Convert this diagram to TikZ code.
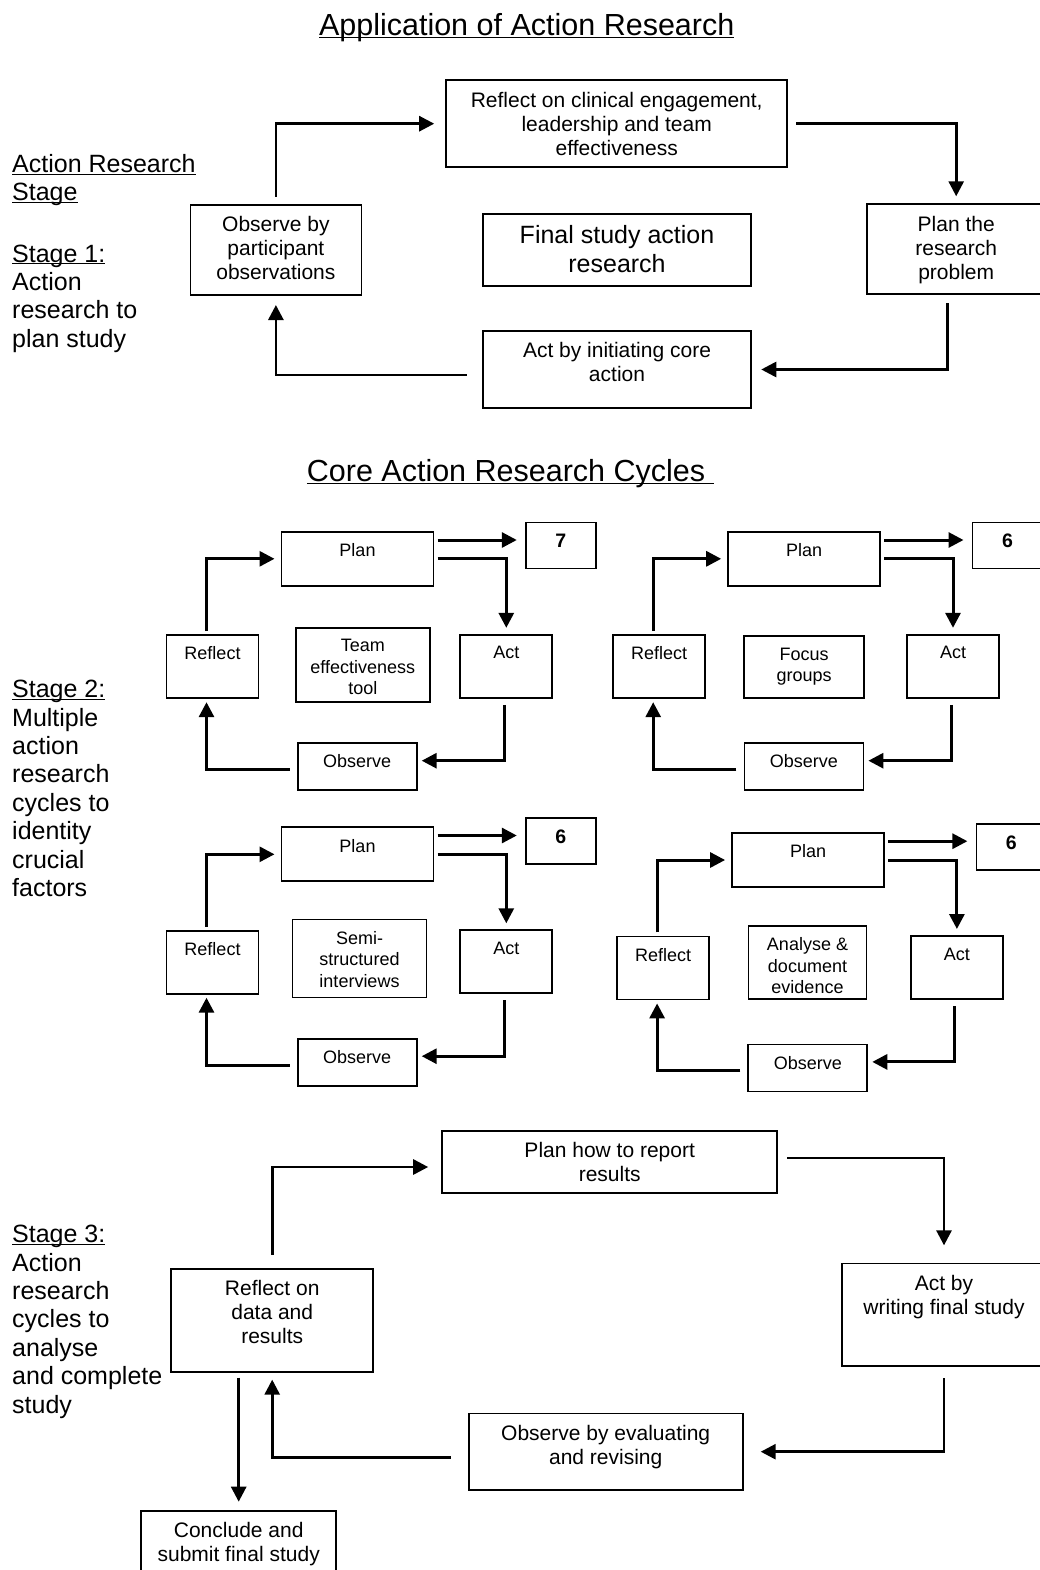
\documentclass[tikz,border=0pt]{standalone}
\usepackage{fontspec}
\setmainfont{Liberation Sans}
\usetikzlibrary{arrows.meta}

\begin{document}
\begin{tikzpicture}[x=1pt,y=-1pt,
    box/.style={draw, line width=1.7pt, inner sep=0pt, outer sep=0pt},
    sz/.style 2 args={minimum width=#1pt, minimum height=#2pt},
    lab/.style 2 args={label={[#1,anchor=north]north:{#2}}},
    txt/.style={align=center, inner xsep=0pt, inner ysep=11.5pt, font=\fontsize{21}{24}\selectfont},
    big/.style={txt, font=\fontsize{25}{29}\selectfont},
    ctxt/.style={txt, font=\fontsize{18}{21.5}\selectfont},
    num/.style={txt, font=\fontsize{19.5}{22}\selectfont\bfseries},
    side/.style={align=left, anchor=north west, inner sep=0pt, font=\fontsize{25}{28.4}\selectfont},
    head/.style={inner sep=0pt, font=\fontsize{30.5}{36}\selectfont},
    arr/.style={line width=2.7pt, -{Triangle[length=15pt,width=15pt]}},
    carr/.style={arr, line width=3pt}]
  \useasboundingbox (0,0) rectangle (1040,1570);

  \node[head, anchor=base] (tit1) at (526.7,36) {\underbar{Application of Action Research}};
  \node[head, anchor=base west] (tit2) at (306.7,481.7) {\underbar{Core Action Research Cycles\ }};

  \node[side] (hd) at (12,154) {\underbar{Action Research}\\\underbar{Stage}};
  \node[side] (st1) at (12,244.5) {\underbar{Stage 1:}\\Action\\research to\\plan study};
  \node[side] (st2) at (12,680.1) {\underbar{Stage 2:}\\Multiple\\action\\research\\cycles to\\identity\\crucial\\factors};
  \node[side] (st3) at (12,1225.1) {\underbar{Stage 3:}\\Action\\research\\cycles to\\analyse\\and complete\\study};

  % stage 1
  \node[box, sz={341}{87}, lab={txt}{Reflect on clinical engagement,\\leadership and team\\effectiveness}] (refl0) at (616.7,123.7) {};
  \node[box, sz={171}{90}, lab={txt}{Observe by\\participant\\observations}] (obs0) at (275.9,250) {};
  \node[box, sz={268.5}{72}, lab={big}{Final study action\\research}] (fin0) at (617,250) {};
  \node[box, sz={178}{90}, lab={txt}{Plan the\\research\\problem}] (plan0) at (956.2,249.3) {};
  \node[box, sz={268.5}{77.6}, lab={txt}{Act by initiating core\\action}] (act0) at (617,369.5) {};
  \draw[arr, shorten <=8pt, shorten >=12pt] (obs0.north) |- (refl0.west);
  \draw[arr, shorten <=9pt, shorten >=8pt] (refl0.east) -| (plan0.north);
  \draw[arr, shorten <=9pt, shorten >=10pt] ([xshift=-9pt]plan0.south) |- (act0.east);
  \draw[arr, shorten <=16pt, shorten >=10pt] ([yshift=-5.5pt]act0.west) -| (obs0.south);

  % stage 2
  \foreach \i/\dx/\dy/\nm/\mx/\my/\mw/\mh/\mt in {
      1/0/0/7/362.8/664.7/134/74/{Team\\effectiveness\\tool},
      2/446.7/0/6/357.5/667.2/120/62/{Focus\\groups},
      3/0/295.5/6/359.5/663/134/78/{Semi-\\structured\\interviews},
      4/450.6/301.2/6/356.9/661.5/118/73/{Analyse \&\\document\\evidence}} {
    \begin{scope}[shift={(\dx,\dy)}]
      \node[box, sz={152}{54}, lab={ctxt}{Plan}] (p\i) at (357.5,558.8) {};
      \node[box, sz={70}{46}, lab={num}{\nm}] (n\i) at (560.8,545.5) {};
      \node[box, sz={92}{63}, lab={ctxt}{Reflect}] (r\i) at (212.5,666.7) {};
      \node[box, sz={\mw}{\mh}, lab={ctxt}{\mt}] (m\i) at (\mx,\my) {};
      \node[box, sz={92}{63}, lab={ctxt}{Act}] (a\i) at (506.3,666.3) {};
      \node[box, sz={119}{47}, lab={ctxt}{Observe}] (o\i) at (357.2,766.7) {};
    \end{scope}
    \draw[carr, shorten >=9pt] ([xshift=4pt,yshift=18.8pt]p\i.east) coordinate (t\i) -- (t\i -| n\i.west);
    \draw[carr, shorten <=4pt, shorten >=7pt] (p\i.east) -| (a\i.north);
    \draw[carr, shorten <=7pt, shorten >=5pt] ([xshift=-2pt]a\i.south) |- ([yshift=6pt]o\i.east);
    \draw[carr, shorten <=8pt, shorten >=4pt] ([yshift=-3pt]o\i.west) -| ([xshift=-6pt]r\i.south);
    \draw[carr, shorten <=4pt, shorten >=7pt] ([xshift=-6pt]r\i.north) |- (p\i.west);
  }

  % stage 3
  \node[box, sz={335}{62.6}, lab={txt}{Plan how to report\\results}] (pl3) at (609.7,1162) {};
  \node[box, sz={204}{102.7}, lab={txt}{Act by\\writing final study}] (ac3) at (944,1314.7) {};
  \node[box, sz={202.2}{102.7}, lab={txt}{Reflect on\\data and\\results}] (rf3) at (272.2,1320.3) {};
  \node[box, sz={274}{76.7}, lab={txt}{Observe by evaluating\\and revising}] (ob3) at (605.7,1451.7) {};
  \node[box, sz={195}{70}, lab={txt}{Conclude and\\submit final study}] (cn3) at (238.7,1545.7) {};
  \draw[arr, shorten <=14pt, shorten >=14pt] (rf3.north) |- ([yshift=-5pt]pl3.west);
  \draw[arr, shorten <=10pt, shorten >=18pt] ([yshift=4pt]pl3.east) -| (ac3.north);
  \draw[arr, shorten <=12pt, shorten >=18pt] (ac3.south) |- (ob3.east);
  \draw[arr, shorten <=18pt, shorten >=8pt] ([yshift=-6pt]ob3.west) -| (rf3.south);
  \draw[arr, shorten <=6pt, shorten >=9pt] (rf3.south -| cn3.north) -- (cn3.north);
\end{tikzpicture}
\end{document}
